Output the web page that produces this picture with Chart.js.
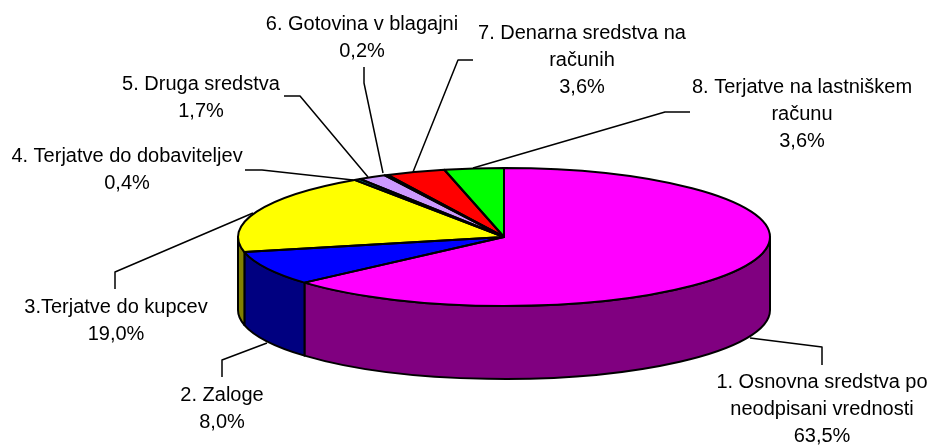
<!DOCTYPE html>
<html>
<head>
<meta charset="utf-8">
<style>
  html, body { margin: 0; padding: 0; background: #fff; }
  #wrap { width: 932px; height: 447px; }
</style>
<script src="https://cdn.jsdelivr.net/npm/chart.js@4"></script>
</head>
<body>
<div id="wrap"><canvas id="pie"></canvas></div>
<script>
// Data
const categories = [
    ['1. Osnovna sredstva po', 'neodpisani vrednosti'],
    ['2. Zaloge'],
    ['3.Terjatve do kupcev'],
    ['4. Terjatve do dobaviteljev'],
    ['5. Druga sredstva'],
    ['6. Gotovina v blagajni'],
    ['7. Denarna sredstva na', 'računih'],
    ['8. Terjatve na lastniškem', 'računu']
];
const shares = [63.5, 8.0, 19.0, 0.4, 1.7, 0.2, 3.6, 3.6];

// Top face and wall colours
const topColors = ['#ff00ff', '#0000ff', '#ffff00', '#008080', '#cc99ff', '#800000', '#ff0000', '#00ff00'];
const wallColors = ['#800080', '#000080', '#808000', '#004040', '#664c80', '#400000', '#800000', '#008000'];

// Label placement: centre x and first line y
const labelX = [822, 222, 116, 127, 201, 362, 582, 802];
const labelY = [382, 395, 307, 156, 84, 24, 33, 87];
const lineHeight = 27;

// Leader lines, label end first
const leaders = [
    [[822, 365], [822, 347], [750, 338]],
    [[222, 377], [222, 360], [267, 343]],
    [[115, 289], [115, 272], [253, 213]],
    [[245, 170], [262, 170], [353, 180]],
    [[284, 96], [300, 96], [368, 177]],
    [[364, 67], [364, 83], [383, 173]],
    [[473, 60], [458, 60], [413, 172]],
    [[690, 112], [665, 112], [473, 168]]
];

// Pie look
const radiusX = 266;
const radiusY = 69;
const depth = 73;
const outline = 2;

const squash = radiusY / radiusX;

// Path along the rim from angle a to angle b
function rimPath(ctx, x, y, a, b, dy) {
    ctx.ellipse(x, y + dy, radiusX, radiusY, 0, a, b);
}

// Squashes the flat pie into an ellipse and puts the walls under it
const tiltPlugin = {
    id: 'tilt',
    beforeDatasetsDraw(chart) {
        const ctx = chart.ctx;
        const arcs = chart.getDatasetMeta(0).data;
        ctx.save();
        ctx.lineWidth = outline;
        ctx.strokeStyle = '#000';
        ctx.lineJoin = 'round';
        arcs.forEach((arc, i) => {
            // only the part of the rim facing the viewer has a wall
            const a = Math.max(arc.startAngle, 0);
            const b = Math.min(arc.endAngle, Math.PI);
            if (b <= a) return;
            ctx.beginPath();
            rimPath(ctx, arc.x, arc.y, a, b, 0);
            ctx.lineTo(arc.x + radiusX * Math.cos(b), arc.y + radiusY * Math.sin(b) + depth);
            ctx.ellipse(arc.x, arc.y + depth, radiusX, radiusY, 0, b, a, true);
            ctx.closePath();
            ctx.fillStyle = wallColors[i];
            ctx.fill();
            ctx.stroke();
        });
        ctx.restore();

        // arcs get drawn inside this transform
        const c = arcs[0];
        ctx.save();
        ctx.translate(c.x, c.y);
        ctx.scale(1, squash);
        ctx.translate(-c.x, -c.y);
    },
    afterDatasetsDraw(chart) {
        const ctx = chart.ctx;
        ctx.restore();

        const arcs = chart.getDatasetMeta(0).data;
        ctx.save();
        ctx.lineWidth = outline;
        ctx.strokeStyle = '#000';
        ctx.lineJoin = 'round';
        arcs.forEach(arc => {
            ctx.beginPath();
            ctx.moveTo(arc.x, arc.y);
            rimPath(ctx, arc.x, arc.y, arc.startAngle, arc.endAngle, 0);
            ctx.closePath();
            ctx.stroke();
        });

        // Leader lines
        ctx.lineWidth = 1.5;
        leaders.forEach(points => {
            ctx.beginPath();
            points.forEach((p, i) => {
                if (i === 0) ctx.moveTo(p[0], p[1]);
                else ctx.lineTo(p[0], p[1]);
            });
            ctx.stroke();
        });

        // Labels
        ctx.fillStyle = '#000';
        ctx.font = '20px "Liberation Sans", Arial, sans-serif';
        ctx.textAlign = 'center';
        ctx.textBaseline = 'middle';
        categories.forEach((lines, i) => {
            const text = lines.concat(shares[i].toFixed(1).replace('.', ',') + '%');
            text.forEach((line, n) => {
                ctx.fillText(line, labelX[i], labelY[i] + n * lineHeight);
            });
        });
        ctx.restore();
    }
};

new Chart(document.getElementById('pie'), {
    type: 'pie',
    data: {
        labels: categories.map(c => c.join(' ')),
        datasets: [{
            data: shares,
            backgroundColor: topColors,
            borderWidth: 0,
            radius: radiusX
        }]
    },
    options: {
        responsive: true,
        maintainAspectRatio: false,
        animation: false,
        // moves the pie centre to where it sits in the picture
        layout: { padding: { left: 76, top: 27 } },
        plugins: {
            legend: { display: false },
            tooltip: { enabled: false }
        }
    },
    plugins: [tiltPlugin]
});
</script>
</body>
</html>
